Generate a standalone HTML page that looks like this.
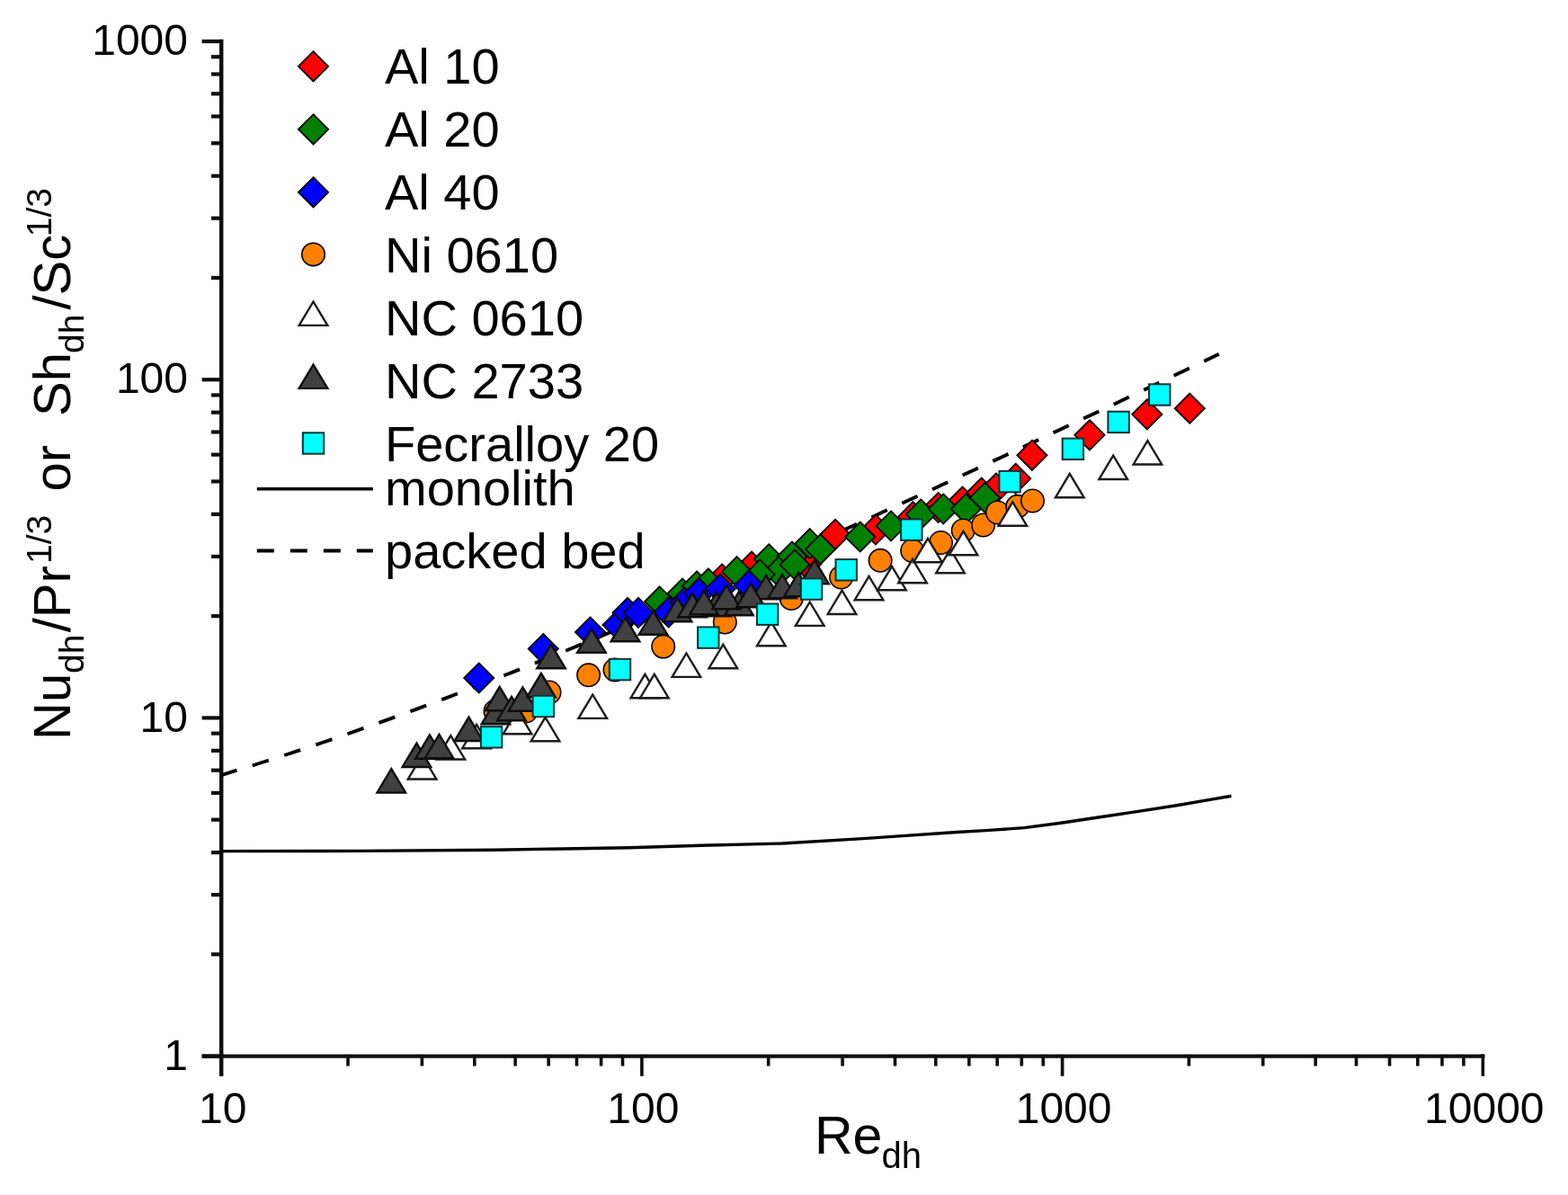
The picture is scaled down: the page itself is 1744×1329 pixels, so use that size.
<!DOCTYPE html>
<html><head><meta charset="utf-8"><title>Nu vs Re</title><style>html,body{margin:0;padding:0;background:#fff;overflow:hidden}svg{display:block}</style></head><body>
<svg width="1744" height="1329" viewBox="0 0 1744 1329">
<defs><filter id="soft" filterUnits="userSpaceOnUse" x="0" y="0" width="1744" height="1329"><feGaussianBlur stdDeviation="0.55"/></filter></defs>
<rect width="100%" height="100%" fill="#fff"/>
<g filter="url(#soft)">
<line x1="246.2" y1="43.8" x2="246.2" y2="1196.8" stroke="#111" stroke-width="4.4"/>
<line x1="224.6" y1="1174.6" x2="1651.4" y2="1174.6" stroke="#111" stroke-width="4.4"/>
<line x1="224.6" y1="1174.60" x2="246" y2="1174.60" stroke="#111" stroke-width="4.2"/>
<line x1="235" y1="1061.35" x2="246" y2="1061.35" stroke="#111" stroke-width="4.2"/>
<line x1="235" y1="995.11" x2="246" y2="995.11" stroke="#111" stroke-width="4.2"/>
<line x1="235" y1="948.11" x2="246" y2="948.11" stroke="#111" stroke-width="4.2"/>
<line x1="235" y1="911.65" x2="246" y2="911.65" stroke="#111" stroke-width="4.2"/>
<line x1="235" y1="881.86" x2="246" y2="881.86" stroke="#111" stroke-width="4.2"/>
<line x1="235" y1="856.67" x2="246" y2="856.67" stroke="#111" stroke-width="4.2"/>
<line x1="235" y1="834.86" x2="246" y2="834.86" stroke="#111" stroke-width="4.2"/>
<line x1="235" y1="815.61" x2="246" y2="815.61" stroke="#111" stroke-width="4.2"/>
<line x1="224.6" y1="798.40" x2="246" y2="798.40" stroke="#111" stroke-width="4.2"/>
<line x1="235" y1="685.15" x2="246" y2="685.15" stroke="#111" stroke-width="4.2"/>
<line x1="235" y1="618.91" x2="246" y2="618.91" stroke="#111" stroke-width="4.2"/>
<line x1="235" y1="571.91" x2="246" y2="571.91" stroke="#111" stroke-width="4.2"/>
<line x1="235" y1="535.45" x2="246" y2="535.45" stroke="#111" stroke-width="4.2"/>
<line x1="235" y1="505.66" x2="246" y2="505.66" stroke="#111" stroke-width="4.2"/>
<line x1="235" y1="480.47" x2="246" y2="480.47" stroke="#111" stroke-width="4.2"/>
<line x1="235" y1="458.66" x2="246" y2="458.66" stroke="#111" stroke-width="4.2"/>
<line x1="235" y1="439.41" x2="246" y2="439.41" stroke="#111" stroke-width="4.2"/>
<line x1="224.6" y1="422.20" x2="246" y2="422.20" stroke="#111" stroke-width="4.2"/>
<line x1="235" y1="308.95" x2="246" y2="308.95" stroke="#111" stroke-width="4.2"/>
<line x1="235" y1="242.71" x2="246" y2="242.71" stroke="#111" stroke-width="4.2"/>
<line x1="235" y1="195.71" x2="246" y2="195.71" stroke="#111" stroke-width="4.2"/>
<line x1="235" y1="159.25" x2="246" y2="159.25" stroke="#111" stroke-width="4.2"/>
<line x1="235" y1="129.46" x2="246" y2="129.46" stroke="#111" stroke-width="4.2"/>
<line x1="235" y1="104.27" x2="246" y2="104.27" stroke="#111" stroke-width="4.2"/>
<line x1="235" y1="82.46" x2="246" y2="82.46" stroke="#111" stroke-width="4.2"/>
<line x1="235" y1="63.21" x2="246" y2="63.21" stroke="#111" stroke-width="4.2"/>
<line x1="224.6" y1="46.00" x2="246" y2="46.00" stroke="#111" stroke-width="4.2"/>
<line x1="246.20" y1="1174.6" x2="246.20" y2="1196.8" stroke="#111" stroke-width="3.6"/>
<line x1="386.99" y1="1174.6" x2="386.99" y2="1185.6" stroke="#111" stroke-width="3.6"/>
<line x1="469.35" y1="1174.6" x2="469.35" y2="1185.6" stroke="#111" stroke-width="3.6"/>
<line x1="527.78" y1="1174.6" x2="527.78" y2="1185.6" stroke="#111" stroke-width="3.6"/>
<line x1="573.11" y1="1174.6" x2="573.11" y2="1185.6" stroke="#111" stroke-width="3.6"/>
<line x1="610.14" y1="1174.6" x2="610.14" y2="1185.6" stroke="#111" stroke-width="3.6"/>
<line x1="641.45" y1="1174.6" x2="641.45" y2="1185.6" stroke="#111" stroke-width="3.6"/>
<line x1="668.58" y1="1174.6" x2="668.58" y2="1185.6" stroke="#111" stroke-width="3.6"/>
<line x1="692.50" y1="1174.6" x2="692.50" y2="1185.6" stroke="#111" stroke-width="3.6"/>
<line x1="713.90" y1="1174.6" x2="713.90" y2="1196.8" stroke="#111" stroke-width="3.6"/>
<line x1="854.69" y1="1174.6" x2="854.69" y2="1185.6" stroke="#111" stroke-width="3.6"/>
<line x1="937.05" y1="1174.6" x2="937.05" y2="1185.6" stroke="#111" stroke-width="3.6"/>
<line x1="995.48" y1="1174.6" x2="995.48" y2="1185.6" stroke="#111" stroke-width="3.6"/>
<line x1="1040.81" y1="1174.6" x2="1040.81" y2="1185.6" stroke="#111" stroke-width="3.6"/>
<line x1="1077.84" y1="1174.6" x2="1077.84" y2="1185.6" stroke="#111" stroke-width="3.6"/>
<line x1="1109.15" y1="1174.6" x2="1109.15" y2="1185.6" stroke="#111" stroke-width="3.6"/>
<line x1="1136.28" y1="1174.6" x2="1136.28" y2="1185.6" stroke="#111" stroke-width="3.6"/>
<line x1="1160.20" y1="1174.6" x2="1160.20" y2="1185.6" stroke="#111" stroke-width="3.6"/>
<line x1="1181.60" y1="1174.6" x2="1181.60" y2="1196.8" stroke="#111" stroke-width="3.6"/>
<line x1="1322.39" y1="1174.6" x2="1322.39" y2="1185.6" stroke="#111" stroke-width="3.6"/>
<line x1="1404.75" y1="1174.6" x2="1404.75" y2="1185.6" stroke="#111" stroke-width="3.6"/>
<line x1="1463.18" y1="1174.6" x2="1463.18" y2="1185.6" stroke="#111" stroke-width="3.6"/>
<line x1="1508.51" y1="1174.6" x2="1508.51" y2="1185.6" stroke="#111" stroke-width="3.6"/>
<line x1="1545.54" y1="1174.6" x2="1545.54" y2="1185.6" stroke="#111" stroke-width="3.6"/>
<line x1="1576.85" y1="1174.6" x2="1576.85" y2="1185.6" stroke="#111" stroke-width="3.6"/>
<line x1="1603.98" y1="1174.6" x2="1603.98" y2="1185.6" stroke="#111" stroke-width="3.6"/>
<line x1="1627.90" y1="1174.6" x2="1627.90" y2="1185.6" stroke="#111" stroke-width="3.6"/>
<line x1="1649.30" y1="1172.3999999999999" x2="1649.30" y2="1196.8" stroke="#111" stroke-width="3.6"/>
<text x="209" y="1189.9" text-anchor="end" font-family="Liberation Sans, Arial, sans-serif" font-size="48" fill="#000">1</text>
<text x="209" y="813.7" text-anchor="end" font-family="Liberation Sans, Arial, sans-serif" font-size="48" fill="#000">10</text>
<text x="209" y="436.5" text-anchor="end" font-family="Liberation Sans, Arial, sans-serif" font-size="48" fill="#000">100</text>
<text x="209" y="61.3" text-anchor="end" font-family="Liberation Sans, Arial, sans-serif" font-size="48" fill="#000">1000</text>
<text x="247.7" y="1248.5" text-anchor="middle" font-family="Liberation Sans, Arial, sans-serif" font-size="48" fill="#000">10</text>
<text x="715.4" y="1248.5" text-anchor="middle" font-family="Liberation Sans, Arial, sans-serif" font-size="48" fill="#000">100</text>
<text x="1183.1" y="1248.5" text-anchor="middle" font-family="Liberation Sans, Arial, sans-serif" font-size="48" fill="#000">1000</text>
<text x="1650.8" y="1248.5" text-anchor="middle" font-family="Liberation Sans, Arial, sans-serif" font-size="48" fill="#000">10000</text>
<text x="906" y="1283.3" font-family="Liberation Sans, Arial, sans-serif" font-size="59" fill="#000">Re<tspan font-size="40" x="980.5" y="1299.3">dh</tspan></text>
<text transform="translate(78,819) rotate(-90)" font-family="Liberation Sans, Arial, sans-serif" fill="#000"><tspan font-size="58" x="-4" y="0">Nu</tspan><tspan font-size="39" x="70" y="15">dh</tspan><tspan font-size="58" x="115.7" y="0">/Pr</tspan><tspan font-size="39" x="192" y="-21.5">1/3</tspan><tspan font-size="58" x="272.5" y="0">or</tspan><tspan font-size="58" x="356" y="0">Sh</tspan><tspan font-size="39" x="426" y="15">dh</tspan><tspan font-size="58" x="474.4" y="0">/Sc</tspan><tspan font-size="39" x="555.8" y="-21.5">1/3</tspan></text>
<path d="M246.2,946.6 L400,946.4 L550,945.2 L700,942.7 L780,940.3 L870,938.0 L960,932.6 L1000,929.9 L1060,925.8 L1100,923.4 L1139,920.6 L1180,915.2 L1220,909.2 L1266,902.4 L1311.7,895.2 L1348.4,888.9 L1369.5,885.3" fill="none" stroke="#000" stroke-width="3.4" stroke-linejoin="round"/>
<path d="M246.2,862.1 L255.5,859.2 L264.8,856.3 L274.2,853.4 L283.5,850.5 L292.8,847.5 L302.1,844.6 L311.5,841.5 L320.8,838.5 L330.1,835.4 L339.4,832.3 L348.8,829.2 L358.1,826.0 L367.4,822.8 L376.7,819.6 L386.1,816.4 L395.4,813.1 L404.7,809.8 L414.0,806.5 L423.4,803.2 L432.7,799.8 L442.0,796.4 L451.3,793.0 L460.7,789.6 L470.0,786.1 L479.3,782.6 L488.6,779.1 L498.0,775.6 L507.3,772.0 L516.6,768.4 L525.9,764.9 L535.3,761.2 L544.6,757.6 L553.9,753.9 L563.2,750.3 L572.6,746.6 L581.9,742.9 L591.2,739.1 L600.5,735.4 L609.9,731.6 L619.2,727.8 L628.5,724.0 L637.8,720.2 L647.1,716.3 L656.5,712.5 L665.8,708.6 L675.1,704.7 L684.4,700.8 L693.8,696.9 L703.1,692.9 L712.4,689.0 L721.7,685.0 L731.1,681.0 L740.4,677.0 L749.7,673.0 L759.0,669.0 L768.4,665.0 L777.7,660.9 L787.0,656.9 L796.3,652.8 L805.7,648.7 L815.0,644.6 L824.3,640.5 L833.6,636.4 L843.0,632.2 L852.3,628.1 L861.6,624.0 L870.9,619.8 L880.3,615.6 L889.6,611.4 L898.9,607.2 L908.2,603.0 L917.6,598.8 L926.9,594.6 L936.2,590.4 L945.5,586.2 L954.9,581.9 L964.2,577.7 L973.5,573.4 L982.8,569.1 L992.1,564.9 L1001.5,560.6 L1010.8,556.3 L1020.1,552.0 L1029.4,547.7 L1038.8,543.4 L1048.1,539.1 L1057.4,534.7 L1066.7,530.4 L1076.1,526.1 L1085.4,521.7 L1094.7,517.4 L1104.0,513.0 L1113.4,508.7 L1122.7,504.3 L1132.0,499.9 L1141.3,495.6 L1150.7,491.2 L1160.0,486.8 L1169.3,482.4 L1178.6,478.0 L1188.0,473.6 L1197.3,469.2 L1206.6,464.8 L1215.9,460.4 L1225.3,456.0 L1234.6,451.6 L1243.9,447.2 L1253.2,442.7 L1262.6,438.3 L1271.9,433.9 L1281.2,429.4 L1290.5,425.0 L1299.9,420.6 L1309.2,416.1 L1318.5,411.7 L1327.8,407.2 L1337.2,402.8 L1346.5,398.3 L1355.8,393.8" fill="none" stroke="#000" stroke-width="3.9" stroke-dasharray="19 18.125" stroke-dashoffset="0.93"/>
<path d="M803.0,627.4 L819.6,644.0 L803.0,660.6 L786.4,644.0Z" fill="#ff0000" stroke="#000" stroke-width="1.8"/>
<path d="M836.0,613.4 L852.6,630.0 L836.0,646.6 L819.4,630.0Z" fill="#ff0000" stroke="#000" stroke-width="1.8"/>
<path d="M897.0,610.4 L913.6,627.0 L897.0,643.6 L880.4,627.0Z" fill="#ff0000" stroke="#000" stroke-width="1.8"/>
<path d="M929.0,577.7 L945.6,594.3 L929.0,610.9 L912.4,594.3Z" fill="#ff0000" stroke="#000" stroke-width="1.8"/>
<path d="M974.0,572.4 L990.6,589.0 L974.0,605.6 L957.4,589.0Z" fill="#ff0000" stroke="#000" stroke-width="1.8"/>
<path d="M1015.5,558.1 L1032.1,574.7 L1015.5,591.3 L998.9,574.7Z" fill="#ff0000" stroke="#000" stroke-width="1.8"/>
<path d="M1043.5,547.9 L1060.1,564.5 L1043.5,581.1 L1026.9,564.5Z" fill="#ff0000" stroke="#000" stroke-width="1.8"/>
<path d="M1070.5,541.4 L1087.1,558.0 L1070.5,574.6 L1053.9,558.0Z" fill="#ff0000" stroke="#000" stroke-width="1.8"/>
<path d="M1091.7,531.4 L1108.3,548.0 L1091.7,564.6 L1075.1,548.0Z" fill="#ff0000" stroke="#000" stroke-width="1.8"/>
<path d="M1108.0,526.4 L1124.6,543.0 L1108.0,559.6 L1091.4,543.0Z" fill="#ff0000" stroke="#000" stroke-width="1.8"/>
<path d="M1129.7,515.7 L1146.3,532.3 L1129.7,548.9 L1113.1,532.3Z" fill="#ff0000" stroke="#000" stroke-width="1.8"/>
<path d="M1147.9,489.7 L1164.5,506.3 L1147.9,522.9 L1131.3,506.3Z" fill="#ff0000" stroke="#000" stroke-width="1.8"/>
<path d="M1211.9,467.2 L1228.5,483.8 L1211.9,500.4 L1195.3,483.8Z" fill="#ff0000" stroke="#000" stroke-width="1.8"/>
<path d="M1275.8,444.2 L1292.4,460.8 L1275.8,477.4 L1259.2,460.8Z" fill="#ff0000" stroke="#000" stroke-width="1.8"/>
<path d="M1323.3,437.6 L1339.9,454.2 L1323.3,470.8 L1306.7,454.2Z" fill="#ff0000" stroke="#000" stroke-width="1.8"/>
<path d="M733.7,652.3 L750.3,668.9 L733.7,685.5 L717.1,668.9Z" fill="#008000" stroke="#000" stroke-width="1.8"/>
<path d="M759.0,643.4 L775.6,660.0 L759.0,676.6 L742.4,660.0Z" fill="#008000" stroke="#000" stroke-width="1.8"/>
<path d="M775.0,635.4 L791.6,652.0 L775.0,668.6 L758.4,652.0Z" fill="#008000" stroke="#000" stroke-width="1.8"/>
<path d="M787.9,632.3 L804.5,648.9 L787.9,665.5 L771.3,648.9Z" fill="#008000" stroke="#000" stroke-width="1.8"/>
<path d="M819.6,619.1 L836.2,635.7 L819.6,652.3 L803.0,635.7Z" fill="#008000" stroke="#000" stroke-width="1.8"/>
<path d="M855.2,605.2 L871.8,621.8 L855.2,638.4 L838.6,621.8Z" fill="#008000" stroke="#000" stroke-width="1.8"/>
<path d="M880.9,602.4 L897.5,619.0 L880.9,635.6 L864.3,619.0Z" fill="#008000" stroke="#000" stroke-width="1.8"/>
<path d="M900.7,588.1 L917.3,604.7 L900.7,621.3 L884.1,604.7Z" fill="#008000" stroke="#000" stroke-width="1.8"/>
<path d="M912.5,594.2 L929.1,610.8 L912.5,627.4 L895.9,610.8Z" fill="#008000" stroke="#000" stroke-width="1.8"/>
<path d="M956.7,580.4 L973.3,597.0 L956.7,613.6 L940.1,597.0Z" fill="#008000" stroke="#000" stroke-width="1.8"/>
<path d="M991.0,568.4 L1007.6,585.0 L991.0,601.6 L974.4,585.0Z" fill="#008000" stroke="#000" stroke-width="1.8"/>
<path d="M1024.2,555.4 L1040.8,572.0 L1024.2,588.6 L1007.6,572.0Z" fill="#008000" stroke="#000" stroke-width="1.8"/>
<path d="M1049.2,549.4 L1065.8,566.0 L1049.2,582.6 L1032.6,566.0Z" fill="#008000" stroke="#000" stroke-width="1.8"/>
<path d="M1074.3,549.4 L1090.9,566.0 L1074.3,582.6 L1057.7,566.0Z" fill="#008000" stroke="#000" stroke-width="1.8"/>
<path d="M1095.4,536.8 L1112.0,553.4 L1095.4,570.0 L1078.8,553.4Z" fill="#008000" stroke="#000" stroke-width="1.8"/>
<path d="M866.0,619.4 L882.6,636.0 L866.0,652.6 L849.4,636.0Z" fill="#008000" stroke="#000" stroke-width="1.8"/>
<path d="M884.0,611.4 L900.6,628.0 L884.0,644.6 L867.4,628.0Z" fill="#008000" stroke="#000" stroke-width="1.8"/>
<path d="M845.0,622.4 L861.6,639.0 L845.0,655.6 L828.4,639.0Z" fill="#008000" stroke="#000" stroke-width="1.8"/>
<path d="M532.7,737.4 L549.3,754.0 L532.7,770.6 L516.1,754.0Z" fill="#0000ff" stroke="#000" stroke-width="1.8"/>
<path d="M604.3,705.0 L620.9,721.6 L604.3,738.2 L587.7,721.6Z" fill="#0000ff" stroke="#000" stroke-width="1.8"/>
<path d="M656.5,686.4 L673.1,703.0 L656.5,719.6 L639.9,703.0Z" fill="#0000ff" stroke="#000" stroke-width="1.8"/>
<path d="M687.0,678.4 L703.6,695.0 L687.0,711.6 L670.4,695.0Z" fill="#0000ff" stroke="#000" stroke-width="1.8"/>
<path d="M698.1,664.8 L714.7,681.4 L698.1,698.0 L681.5,681.4Z" fill="#0000ff" stroke="#000" stroke-width="1.8"/>
<path d="M710.0,664.8 L726.6,681.4 L710.0,698.0 L693.4,681.4Z" fill="#0000ff" stroke="#000" stroke-width="1.8"/>
<path d="M743.6,664.4 L760.2,681.0 L743.6,697.6 L727.0,681.0Z" fill="#0000ff" stroke="#000" stroke-width="1.8"/>
<path d="M761.4,653.4 L778.0,670.0 L761.4,686.6 L744.8,670.0Z" fill="#0000ff" stroke="#000" stroke-width="1.8"/>
<path d="M777.3,643.0 L793.9,659.6 L777.3,676.2 L760.7,659.6Z" fill="#0000ff" stroke="#000" stroke-width="1.8"/>
<path d="M801.1,638.4 L817.7,655.0 L801.1,671.6 L784.5,655.0Z" fill="#0000ff" stroke="#000" stroke-width="1.8"/>
<path d="M833.0,634.4 L849.6,651.0 L833.0,667.6 L816.4,651.0Z" fill="#0000ff" stroke="#000" stroke-width="1.8"/>
<circle cx="551.0" cy="791.0" r="12.7" fill="#ff8000" stroke="#000" stroke-width="1.6"/>
<circle cx="585.0" cy="791.0" r="12.7" fill="#ff8000" stroke="#000" stroke-width="1.6"/>
<circle cx="611.0" cy="770.0" r="12.7" fill="#ff8000" stroke="#000" stroke-width="1.6"/>
<circle cx="654.6" cy="750.8" r="12.7" fill="#ff8000" stroke="#000" stroke-width="1.6"/>
<circle cx="684.0" cy="745.0" r="12.7" fill="#ff8000" stroke="#000" stroke-width="1.6"/>
<circle cx="737.7" cy="719.1" r="12.7" fill="#ff8000" stroke="#000" stroke-width="1.6"/>
<circle cx="806.3" cy="692.0" r="12.7" fill="#ff8000" stroke="#000" stroke-width="1.6"/>
<circle cx="880.2" cy="665.5" r="12.7" fill="#ff8000" stroke="#000" stroke-width="1.6"/>
<circle cx="935.6" cy="642.0" r="12.7" fill="#ff8000" stroke="#000" stroke-width="1.6"/>
<circle cx="979.1" cy="623.3" r="12.7" fill="#ff8000" stroke="#000" stroke-width="1.6"/>
<circle cx="1014.7" cy="612.5" r="12.7" fill="#ff8000" stroke="#000" stroke-width="1.6"/>
<circle cx="1046.5" cy="603.5" r="12.7" fill="#ff8000" stroke="#000" stroke-width="1.6"/>
<circle cx="1071.2" cy="590.0" r="12.7" fill="#ff8000" stroke="#000" stroke-width="1.6"/>
<circle cx="1093.6" cy="584.0" r="12.7" fill="#ff8000" stroke="#000" stroke-width="1.6"/>
<circle cx="1109.5" cy="570.0" r="12.7" fill="#ff8000" stroke="#000" stroke-width="1.6"/>
<circle cx="1131.7" cy="563.3" r="12.7" fill="#ff8000" stroke="#000" stroke-width="1.6"/>
<circle cx="1148.5" cy="557.0" r="12.7" fill="#ff8000" stroke="#000" stroke-width="1.6"/>
<path d="M469.6,840.1 L485.4,866.5 L453.8,866.5Z" fill="#ffffff" stroke="#1a1a1a" stroke-width="2.4" stroke-linejoin="miter"/>
<path d="M501.3,818.1 L517.1,844.5 L485.5,844.5Z" fill="#ffffff" stroke="#1a1a1a" stroke-width="2.4" stroke-linejoin="miter"/>
<path d="M530.0,805.8 L545.8,832.2 L514.2,832.2Z" fill="#ffffff" stroke="#1a1a1a" stroke-width="2.4" stroke-linejoin="miter"/>
<path d="M575.5,789.8 L591.3,816.2 L559.7,816.2Z" fill="#ffffff" stroke="#1a1a1a" stroke-width="2.4" stroke-linejoin="miter"/>
<path d="M606.5,797.8 L622.3,824.2 L590.7,824.2Z" fill="#ffffff" stroke="#1a1a1a" stroke-width="2.4" stroke-linejoin="miter"/>
<path d="M659.2,772.5 L675.0,798.9 L643.4,798.9Z" fill="#ffffff" stroke="#1a1a1a" stroke-width="2.4" stroke-linejoin="miter"/>
<path d="M717.4,749.8 L733.2,776.2 L701.6,776.2Z" fill="#ffffff" stroke="#1a1a1a" stroke-width="2.4" stroke-linejoin="miter"/>
<path d="M727.8,749.8 L743.6,776.2 L712.0,776.2Z" fill="#ffffff" stroke="#1a1a1a" stroke-width="2.4" stroke-linejoin="miter"/>
<path d="M763.4,726.5 L779.2,752.9 L747.6,752.9Z" fill="#ffffff" stroke="#1a1a1a" stroke-width="2.4" stroke-linejoin="miter"/>
<path d="M804.3,716.8 L820.1,743.2 L788.5,743.2Z" fill="#ffffff" stroke="#1a1a1a" stroke-width="2.4" stroke-linejoin="miter"/>
<path d="M857.8,691.8 L873.6,718.2 L842.0,718.2Z" fill="#ffffff" stroke="#1a1a1a" stroke-width="2.4" stroke-linejoin="miter"/>
<path d="M900.7,669.5 L916.5,695.9 L884.9,695.9Z" fill="#ffffff" stroke="#1a1a1a" stroke-width="2.4" stroke-linejoin="miter"/>
<path d="M936.5,656.6 L952.3,683.0 L920.7,683.0Z" fill="#ffffff" stroke="#1a1a1a" stroke-width="2.4" stroke-linejoin="miter"/>
<path d="M966.5,640.8 L982.3,667.2 L950.7,667.2Z" fill="#ffffff" stroke="#1a1a1a" stroke-width="2.4" stroke-linejoin="miter"/>
<path d="M992.0,629.8 L1007.8,656.2 L976.2,656.2Z" fill="#ffffff" stroke="#1a1a1a" stroke-width="2.4" stroke-linejoin="miter"/>
<path d="M1015.0,621.8 L1030.8,648.2 L999.2,648.2Z" fill="#ffffff" stroke="#1a1a1a" stroke-width="2.4" stroke-linejoin="miter"/>
<path d="M1032.0,598.8 L1047.8,625.2 L1016.2,625.2Z" fill="#ffffff" stroke="#1a1a1a" stroke-width="2.4" stroke-linejoin="miter"/>
<path d="M1057.0,610.8 L1072.8,637.2 L1041.2,637.2Z" fill="#ffffff" stroke="#1a1a1a" stroke-width="2.4" stroke-linejoin="miter"/>
<path d="M1071.5,590.8 L1087.3,617.2 L1055.7,617.2Z" fill="#ffffff" stroke="#1a1a1a" stroke-width="2.4" stroke-linejoin="miter"/>
<path d="M1126.3,558.3 L1142.1,584.7 L1110.5,584.7Z" fill="#ffffff" stroke="#1a1a1a" stroke-width="2.4" stroke-linejoin="miter"/>
<path d="M1189.8,526.8 L1205.6,553.2 L1174.0,553.2Z" fill="#ffffff" stroke="#1a1a1a" stroke-width="2.4" stroke-linejoin="miter"/>
<path d="M1238.2,506.6 L1254.0,533.0 L1222.4,533.0Z" fill="#ffffff" stroke="#1a1a1a" stroke-width="2.4" stroke-linejoin="miter"/>
<path d="M1276.4,490.1 L1292.2,516.5 L1260.6,516.5Z" fill="#ffffff" stroke="#1a1a1a" stroke-width="2.4" stroke-linejoin="miter"/>
<path d="M435.3,855.1 L451.1,881.5 L419.5,881.5Z" fill="#404040" stroke="#111" stroke-width="2.4" stroke-linejoin="miter"/>
<path d="M463.4,826.6 L479.2,853.0 L447.6,853.0Z" fill="#404040" stroke="#111" stroke-width="2.4" stroke-linejoin="miter"/>
<path d="M477.9,817.4 L493.7,843.8 L462.1,843.8Z" fill="#404040" stroke="#111" stroke-width="2.4" stroke-linejoin="miter"/>
<path d="M488.5,816.8 L504.3,843.2 L472.7,843.2Z" fill="#404040" stroke="#111" stroke-width="2.4" stroke-linejoin="miter"/>
<path d="M521.4,797.6 L537.2,824.0 L505.6,824.0Z" fill="#404040" stroke="#111" stroke-width="2.4" stroke-linejoin="miter"/>
<path d="M551.4,778.8 L567.2,805.2 L535.6,805.2Z" fill="#404040" stroke="#111" stroke-width="2.4" stroke-linejoin="miter"/>
<path d="M555.7,763.8 L571.5,790.2 L539.9,790.2Z" fill="#404040" stroke="#111" stroke-width="2.4" stroke-linejoin="miter"/>
<path d="M569.0,774.8 L584.8,801.2 L553.2,801.2Z" fill="#404040" stroke="#111" stroke-width="2.4" stroke-linejoin="miter"/>
<path d="M581.4,764.3 L597.2,790.7 L565.6,790.7Z" fill="#404040" stroke="#111" stroke-width="2.4" stroke-linejoin="miter"/>
<path d="M601.9,748.8 L617.7,775.2 L586.1,775.2Z" fill="#404040" stroke="#111" stroke-width="2.4" stroke-linejoin="miter"/>
<path d="M613.0,716.8 L628.8,743.2 L597.2,743.2Z" fill="#404040" stroke="#111" stroke-width="2.4" stroke-linejoin="miter"/>
<path d="M657.9,699.3 L673.7,725.7 L642.1,725.7Z" fill="#404040" stroke="#111" stroke-width="2.4" stroke-linejoin="miter"/>
<path d="M695.5,686.8 L711.3,713.2 L679.7,713.2Z" fill="#404040" stroke="#111" stroke-width="2.4" stroke-linejoin="miter"/>
<path d="M726.5,679.3 L742.3,705.7 L710.7,705.7Z" fill="#404040" stroke="#111" stroke-width="2.4" stroke-linejoin="miter"/>
<path d="M753.5,664.8 L769.3,691.2 L737.7,691.2Z" fill="#404040" stroke="#111" stroke-width="2.4" stroke-linejoin="miter"/>
<path d="M770.0,659.8 L785.8,686.2 L754.2,686.2Z" fill="#404040" stroke="#111" stroke-width="2.4" stroke-linejoin="miter"/>
<path d="M797.0,658.8 L812.8,685.2 L781.2,685.2Z" fill="#404040" stroke="#111" stroke-width="2.4" stroke-linejoin="miter"/>
<path d="M822.0,657.8 L837.8,684.2 L806.2,684.2Z" fill="#404040" stroke="#111" stroke-width="2.4" stroke-linejoin="miter"/>
<path d="M852.0,639.8 L867.8,666.2 L836.2,666.2Z" fill="#404040" stroke="#111" stroke-width="2.4" stroke-linejoin="miter"/>
<path d="M870.0,638.8 L885.8,665.2 L854.2,665.2Z" fill="#404040" stroke="#111" stroke-width="2.4" stroke-linejoin="miter"/>
<path d="M888.0,636.8 L903.8,663.2 L872.2,663.2Z" fill="#404040" stroke="#111" stroke-width="2.4" stroke-linejoin="miter"/>
<path d="M906.0,622.8 L921.8,649.2 L890.2,649.2Z" fill="#404040" stroke="#111" stroke-width="2.4" stroke-linejoin="miter"/>
<path d="M783.0,656.8 L798.8,683.2 L767.2,683.2Z" fill="#404040" stroke="#111" stroke-width="2.4" stroke-linejoin="miter"/>
<path d="M808.0,650.8 L823.8,677.2 L792.2,677.2Z" fill="#404040" stroke="#111" stroke-width="2.4" stroke-linejoin="miter"/>
<path d="M835.0,648.8 L850.8,675.2 L819.2,675.2Z" fill="#404040" stroke="#111" stroke-width="2.4" stroke-linejoin="miter"/>
<rect x="534.9" y="808.1" width="23.4" height="23.4" fill="#00ffff" stroke="#113333" stroke-width="2"/>
<rect x="592.6" y="773.8" width="23.4" height="23.4" fill="#00ffff" stroke="#113333" stroke-width="2"/>
<rect x="677.8" y="732.9" width="23.4" height="23.4" fill="#00ffff" stroke="#113333" stroke-width="2"/>
<rect x="776.1" y="697.4" width="23.4" height="23.4" fill="#00ffff" stroke="#113333" stroke-width="2"/>
<rect x="841.9" y="671.5" width="23.4" height="23.4" fill="#00ffff" stroke="#113333" stroke-width="2"/>
<rect x="890.8" y="643.4" width="23.4" height="23.4" fill="#00ffff" stroke="#113333" stroke-width="2"/>
<rect x="929.5" y="622.1" width="23.4" height="23.4" fill="#00ffff" stroke="#113333" stroke-width="2"/>
<rect x="1002.1" y="577.5" width="23.4" height="23.4" fill="#00ffff" stroke="#113333" stroke-width="2"/>
<rect x="1111.4" y="523.9" width="23.4" height="23.4" fill="#00ffff" stroke="#113333" stroke-width="2"/>
<rect x="1181.7" y="487.6" width="23.4" height="23.4" fill="#00ffff" stroke="#113333" stroke-width="2"/>
<rect x="1232.4" y="457.7" width="23.4" height="23.4" fill="#00ffff" stroke="#113333" stroke-width="2"/>
<rect x="1278.0" y="427.3" width="23.4" height="23.4" fill="#00ffff" stroke="#113333" stroke-width="2"/>
<path d="M348.5,57.2 L365.1,73.8 L348.5,90.4 L331.9,73.8Z" fill="#ff0000" stroke="#000" stroke-width="1.8"/>
<text x="428" y="92.5" font-family="Liberation Sans, Arial, sans-serif" font-size="56" fill="#000">Al 10</text>
<path d="M348.5,127.2 L365.1,143.8 L348.5,160.4 L331.9,143.8Z" fill="#008000" stroke="#000" stroke-width="1.8"/>
<text x="428" y="162.5" font-family="Liberation Sans, Arial, sans-serif" font-size="56" fill="#000">Al 20</text>
<path d="M348.5,197.2 L365.1,213.8 L348.5,230.4 L331.9,213.8Z" fill="#0000ff" stroke="#000" stroke-width="1.8"/>
<text x="428" y="232.5" font-family="Liberation Sans, Arial, sans-serif" font-size="56" fill="#000">Al 40</text>
<circle cx="348.5" cy="282.9" r="12.7" fill="#ff8000" stroke="#000" stroke-width="1.6"/>
<text x="428" y="302.5" font-family="Liberation Sans, Arial, sans-serif" font-size="56" fill="#000">Ni 0610</text>
<path d="M348.5,335.5 L364.3,361.9 L332.7,361.9Z" fill="#ffffff" stroke="#1a1a1a" stroke-width="2.4" stroke-linejoin="miter"/>
<text x="428" y="372.5" font-family="Liberation Sans, Arial, sans-serif" font-size="56" fill="#000">NC 0610</text>
<path d="M348.5,405.5 L364.3,431.9 L332.7,431.9Z" fill="#404040" stroke="#111" stroke-width="2.4" stroke-linejoin="miter"/>
<text x="428" y="442.5" font-family="Liberation Sans, Arial, sans-serif" font-size="56" fill="#000">NC 2733</text>
<rect x="336.8" y="481.3" width="23.4" height="23.4" fill="#00ffff" stroke="#113333" stroke-width="2"/>
<text x="428" y="512.5" font-family="Liberation Sans, Arial, sans-serif" font-size="56" fill="#000">Fecralloy 20</text>
<line x1="285.8" y1="543.7" x2="414.8" y2="543.7" stroke="#000" stroke-width="3.4"/>
<text x="428" y="562.3" font-family="Liberation Sans, Arial, sans-serif" font-size="56" fill="#000">monolith</text>
<line x1="285.8" y1="612.5" x2="414.8" y2="612.5" stroke="#000" stroke-width="3.9" stroke-dasharray="19 18"/>
<text x="428" y="631.7" font-family="Liberation Sans, Arial, sans-serif" font-size="56" fill="#000">packed bed</text>
</g>
</svg>
</body></html>
